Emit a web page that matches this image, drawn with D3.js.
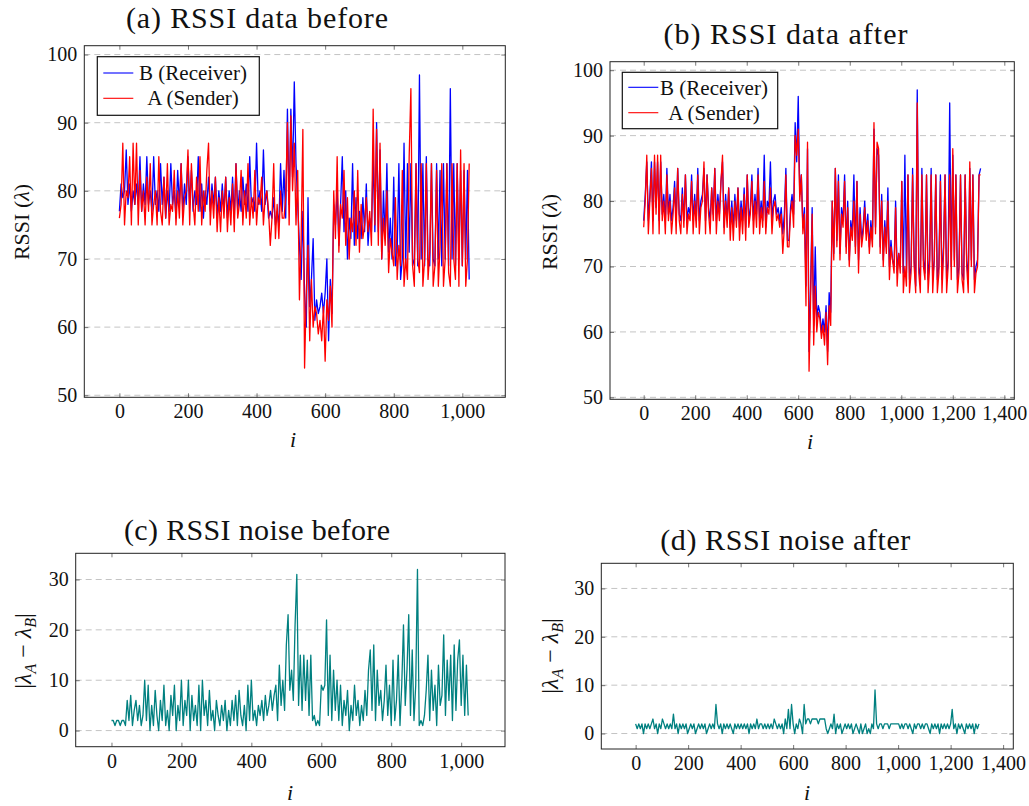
<!DOCTYPE html>
<html>
<head>
<meta charset="utf-8">
<script src="https://cdn.jsdelivr.net/npm/d3@7"></script>
<style>
  body { margin: 0; background: #fff; }
  text { font-family: "Liberation Serif", "Times New Roman", serif; fill: #111; }
</style>
</head>
<body>
<svg id="chart" width="1029" height="806"></svg>
<script>
// DATA (one value per step of the index i)

const stepBefore = 5;   // i = 0, 5, 10, ... 1020
const stepAfter = 6;    // i = 0, 6, 12, ... 1308

// (a) before, B = receiver (blue), A = sender (red)
const rssiBeforeB = [
  77,81,79,80,86,78,81,77,80,78, 81,78,85,77,81,78,85,78,80,77,
  85,78,80,77,84,78,82,76,80,77, 84,78,80,76,83,78,84,77,81,78,
  85,78,83,77,80,78,85,77,81,76, 80,78,82,77,81,78,82,76,80,77,
  81,77,82,76,80,77,82,76,84,77, 80,77,82,78,81,77,85,78,79,77,
  87,78,80,77,86,78,80,76,77,76, 79,75,77,75,84,77,83,76,92,78,
  92,82,96,84,78,72,67,77,65,60, 79,63,67,73,61,64,62,63,65,62,
  65,70,58,67,62,78,75,80,72,78, 85,74,80,70,76,73,84,72,79,73,
  77,73,79,74,81,72,76,74,85,74, 90,74,86,70,80,73,84,71,76,70,
  82,69,71,84,67,70,87,69,84,71, 84,69,70,84,69,97,70,84,69,85,
  70,69,84,70,69,84,70,83,69,84, 70,84,69,95,70,84,69,84,70,83,
  69,83,70,83,67
];
const rssiBeforeA = [
  76,78,87,75,80,79,85,75,87,78, 87,75,83,77,80,75,82,77,84,75,
  78,80,75,85,77,75,82,76,84,75, 78,77,83,75,80,76,84,75,79,80,
  86,75,84,78,75,82,77,85,75,80, 77,83,87,75,80,76,82,74,79,74,
  80,76,82,74,79,75,81,74,84,76, 78,83,75,80,76,84,75,79,76,83,
  75,79,78,82,75,79,80,77,72,76, 84,73,78,73,80,76,76,79,90,75,
  91,80,87,75,83,64,73,89,54,65, 72,58,67,60,63,62,59,61,58,63,
  55,64,61,66,60,80,73,85,71,78, 76,83,72,79,70,76,74,80,72,83,
  71,78,73,75,79,74,77,72,92,75, 89,72,87,70,76,72,80,68,73,71,
  69,79,67,72,69,83,66,70,67,85, 95,69,66,84,70,68,84,66,70,84,
  67,71,84,66,69,83,66,72,84,66, 70,84,68,66,84,70,67,84,66,86,
  69,84,66,70,84
];

// (b) after
const rssiAfterB = [
  77,81,86,77,81,86,77,86,79,86, 77,86,78,81,77,85,78,81,77,79,
  83,77,85,78,77,82,77,84,77,79, 78,84,77,81,77,85,77,80,81,85,
  77,84,79,77,82,78,85,77,81,78, 83,86,76,81,77,82,76,80,76,81,
  77,82,76,80,77,82,76,84,77,79, 84,77,81,78,85,77,80,77,87,76,
  80,79,86,77,80,81,78,79,77,79, 75,78,85,74,74,79,81,78,92,86,
  96,81,84,76,79,67,88,57,67,79, 61,73,62,64,63,60,62,60,64,57,
  66,63,80,72,85,74,84,72,79,77, 84,73,80,71,77,75,84,73,83,71,
  79,74,76,80,75,78,73,77,74,91, 76,88,87,73,81,71,77,73,82,70,
  74,71,70,80,69,72,70,83,69,87, 69,84,68,70,85,71,67,97,70,68,
  85,71,69,84,68,71,85,68,71,84, 68,70,84,68,73,84,68,71,95,70,
  87,71,84,68,70,84,69,68,84,71, 68,85,71,84,68,70,71,84,85
];
const rssiAfterA = [
  76,80,87,75,80,85,75,87,78,87, 75,87,77,80,75,84,77,80,75,78,
  82,75,85,77,75,81,76,84,75,78, 77,83,75,80,76,84,75,79,80,86,
  75,84,78,75,82,77,85,75,80,77, 83,87,75,80,76,82,74,79,74,80,
  76,82,74,79,75,81,74,84,76,78, 83,75,80,76,84,75,79,76,83,75,
  79,78,82,75,79,80,77,78,76,78, 72,76,84,73,73,78,80,76,90,87,
  91,80,84,75,78,64,89,54,65,78, 58,67,60,63,62,59,61,58,63,55,
  64,61,80,71,85,73,83,71,78,76, 83,72,79,70,76,74,80,72,83,69,
  78,73,75,79,74,77,72,76,73,92, 75,89,88,72,80,70,76,72,80,68,
  73,71,69,79,67,72,69,83,66,70, 67,84,66,69,84,70,66,95,69,66,
  84,70,68,84,66,70,84,66,71,84, 66,69,83,66,72,84,66,70,84,68,
  88,70,84,66,69,84,68,66,84,70, 66,86,70,84,66,69,70,84,84
];

// (c) noise before, |A - B|
const noiseBefore = [
  2,2,1,2,2,1,2,2,1,6, 2,7,1,4,6,2,5,1,3,10,
  2,9,0,5,1,8,3,0,6,2, 9,1,4,0,7,3,9,0,5,2,
  10,1,6,3,10,0,7,2,5,1, 9,0,10,3,6,1,8,2,4,0,
  6,3,1,5,2,6,0,4,1,6, 2,7,1,8,3,1,5,0,9,2,
  10,2,4,1,5,3,6,2,7,3, 5,8,4,7,9,2,13,5,10,4,
  17,23,8,12,6,21,31,5,15,4, 15,6,14,3,15,2,3,1,2,1,
  9,8,9,22,3,15,2,12,4,10, 2,9,1,6,3,8,0,5,2,9,
  3,6,1,5,2,8,3,12,16,4, 17,2,12,5,8,2,6,13,3,9,
  1,14,2,6,15,1,9,21,5,12, 23,3,16,2,9,32,1,2,1,3,
  8,15,2,12,4,9,1,13,5,7, 19,3,14,6,15,2,17,4,14,18,
  5,15,3,13,3
];

// (d) noise after
const noiseAfter = [
  2,1,2,1,2,0,2,1,2,1, 2,3,1,2,0,2,1,3,2,1,
  2,1,2,1,4,1,2,0,2,1, 2,1,2,0,1,2,1,2,0,1,
  2,1,2,1,2,0,1,2,1,2, 1,6,2,1,2,0,2,1,2,1,
  2,1,0,2,1,2,1,2,1,2, 1,2,0,2,1,2,1,3,1,2,
  2,1,2,1,2,1,2,1,3,2, 1,2,1,2,0,3,1,5,1,6,
  2,0,2,1,3,2,0,6,2,3, 3,2,3,3,3,3,2,3,3,3,
  3,1,0,1,2,1,4,0,2,1, 2,0,1,2,1,2,1,2,0,1,
  2,1,0,2,0,1,2,0,1,0, 2,1,9,2,1,2,2,1,2,2,
  2,1,2,2,2,2,2,2,1,2, 1,2,2,1,2,1,0,2,1,2,
  2,1,2,1,2,2,1,0,2,1, 2,1,2,0,2,1,2,1,2,1,
  2,5,1,2,0,2,1,2,1,0, 2,1,2,1,2,0,2,1,2
];

const xTicksBefore = [0, 200, 400, 600, 800, 1000];
const xTicksAfter = [0, 200, 400, 600, 800, 1000, 1200, 1400];
const yTicksRssi = [50, 60, 70, 80, 90, 100];
const yTicksNoise = [0, 10, 20, 30];
const legendNames = ["B (Receiver)", "A (Sender)"];
const titles = ["(a) RSSI data before", "(b) RSSI data after", "(c) RSSI noise before", "(d) RSSI noise after"];

// LAYOUT

const svg = d3.select("#chart");
const blue = "#0000ff", red = "#ff0000", teal = "#008080";

const panels = [
  { title: titles[0], titleX: 257, titleY: 28, titleW: 262,
    left: 84.3, right: 505.3, top: 45.7, bottom: 397.3,
    xDom: [-102.3, 1125.3], yDom: [49.7, 101.3], step: stepBefore,
    xTicks: xTicksBefore, yTicks: yTicksRssi,
    series: [{ v: rssiBeforeB, c: blue }, { v: rssiBeforeA, c: red }],
    yLabel: "rssi", yLabelX: 21, yLabelY: 222, xLabelX: 293, xLabelY: 447,
    legend: { x: 97.3, y: 56.7, w: 162, h: 58.6, rows: [73, 98.3], baselines: [80, 105], textX: 193 } },
  { title: titles[1], titleX: 785.5, titleY: 44, titleW: 244,
    left: 610, right: 1014.3, top: 61.7, bottom: 399.3,
    xDom: [-130.8, 1438.8], yDom: [49.7, 101.3], step: stepAfter,
    xTicks: xTicksAfter, yTicks: yTicksRssi,
    series: [{ v: rssiAfterB, c: blue }, { v: rssiAfterA, c: red }],
    yLabel: "rssi", yLabelX: 549, yLabelY: 232, xLabelX: 810, xLabelY: 449,
    legend: { x: 622.3, y: 72.3, w: 155.4, h: 56.4, rows: [87.3, 112.7], baselines: [95, 120], textX: 714 } },
  { title: titles[2], titleX: 257, titleY: 540, titleW: 266,
    left: 75.7, right: 505, top: 553.3, bottom: 746.7,
    xDom: [-102.3, 1125.3], yDom: [-3.2, 35.2], step: stepBefore,
    xTicks: xTicksBefore, yTicks: yTicksNoise,
    series: [{ v: noiseBefore, c: teal }],
    yLabel: "noise", yLabelX: 23, yLabelY: 651, xLabelX: 290, xLabelY: 800 },
  { title: titles[3], titleX: 785.3, titleY: 550, titleW: 250,
    left: 601.3, right: 1013.3, top: 563.3, bottom: 749,
    xDom: [-130.8, 1438.8], yDom: [-3.2, 35.2], step: stepAfter,
    xTicks: xTicksAfter, yTicks: yTicksNoise,
    series: [{ v: noiseAfter, c: teal }],
    yLabel: "noise", yLabelX: 550, yLabelY: 656, xLabelX: 807, xLabelY: 800 }
];

function style_axis(g){
  g.select(".domain").remove();
  g.selectAll(".tick line").attr("stroke", "#555").attr("stroke-width", 0.8);
  g.selectAll(".tick text").attr("font-size", 20).attr("fill", "#111");
}

function draw_panel(p){
  const x = d3.scaleLinear().domain(p.xDom).range([p.left, p.right]);
  const y = d3.scaleLinear().domain(p.yDom).range([p.bottom, p.top]);
  const g = svg.append("g");

  // dashed horizontal grid
  g.append("g").selectAll("line")
    .data(p.yTicks)
    .join("line")
      .attr("x1", p.left).attr("x2", p.right)
      .attr("y1", d => y(d)).attr("y2", d => y(d))
      .attr("stroke", "#c4c4c4")
      .attr("stroke-width", 1)
      .attr("stroke-dasharray", "6,4");

  // series
  const line = d3.line()
    .x((d, i) => x(i * p.step))
    .y(d => y(d));
  p.series.forEach(function(s){
    g.append("path")
      .datum(s.v)
      .attr("d", line)
      .attr("fill", "none")
      .attr("stroke", s.c)
      .attr("stroke-width", 1.3)
      .attr("stroke-linejoin", "round");
  });

  // axes, ticks pointing inwards on all four sides
  g.append("g").attr("transform", "translate(0," + p.bottom + ")")
    .call(d3.axisBottom(x).tickValues(p.xTicks).tickSize(-4).tickPadding(7).tickFormat(d3.format(",")))
    .call(style_axis);
  g.append("g").attr("transform", "translate(0," + p.top + ")")
    .call(d3.axisTop(x).tickValues(p.xTicks).tickSize(-4).tickFormat(""))
    .call(style_axis);
  g.append("g").attr("transform", "translate(" + p.left + ",0)")
    .call(d3.axisLeft(y).tickValues(p.yTicks).tickSize(-4).tickPadding(7))
    .call(style_axis);
  g.append("g").attr("transform", "translate(" + p.right + ",0)")
    .call(d3.axisRight(y).tickValues(p.yTicks).tickSize(-4).tickFormat(""))
    .call(style_axis);

  // frame
  g.append("rect")
    .attr("x", p.left).attr("y", p.top)
    .attr("width", p.right - p.left).attr("height", p.bottom - p.top)
    .attr("fill", "none").attr("stroke", "#222").attr("stroke-width", 1);

  // title
  g.append("text")
    .attr("x", p.titleX).attr("y", p.titleY)
    .attr("text-anchor", "middle")
    .attr("font-size", 30)
    .attr("textLength", p.titleW)
    .attr("lengthAdjust", "spacing")
    .text(p.title);

  // x label
  g.append("text")
    .attr("x", p.xLabelX).attr("y", p.xLabelY)
    .attr("text-anchor", "middle")
    .attr("font-size", 22)
    .attr("font-style", "italic")
    .text("i");

  // y label
  const yl = g.append("text")
    .attr("transform", "translate(" + p.yLabelX + "," + p.yLabelY + ") rotate(-90)")
    .attr("text-anchor", "middle")
    .attr("dy", "0.35em")
    .attr("font-size", 22);
  if(p.yLabel === "rssi"){
    yl.append("tspan").text("RSSI (");
    yl.append("tspan").attr("font-style", "italic").text("λ");
    yl.append("tspan").text(")");
  }
  else{
    yl.attr("font-size", 24);
    yl.append("tspan").text("|");
    yl.append("tspan").attr("font-style", "italic").text("λ");
    yl.append("tspan").attr("font-style", "italic").attr("font-size", 16).attr("dy", 5).text("A");
    yl.append("tspan").attr("dy", -5).text(" − ");
    yl.append("tspan").attr("font-style", "italic").text("λ");
    yl.append("tspan").attr("font-style", "italic").attr("font-size", 16).attr("dy", 5).text("B");
    yl.append("tspan").attr("dy", -5).text("|");
  }

  // legend
  if(p.legend){
    const L = p.legend;
    g.append("rect")
      .attr("x", L.x).attr("y", L.y).attr("width", L.w).attr("height", L.h)
      .attr("fill", "#fff").attr("stroke", "#111").attr("stroke-width", 1.2);
    p.series.forEach(function(s, k){
      g.append("line")
        .attr("x1", L.x + 6).attr("x2", L.x + 36)
        .attr("y1", L.rows[k]).attr("y2", L.rows[k])
        .attr("stroke", s.c).attr("stroke-width", 1.1);
      g.append("text")
        .attr("x", L.textX).attr("y", L.baselines[k])
        .attr("text-anchor", "middle")
        .attr("font-size", 21)
        .text(legendNames[k]);
    });
  }
}

panels.forEach(draw_panel);
</script>
</body>
</html>
